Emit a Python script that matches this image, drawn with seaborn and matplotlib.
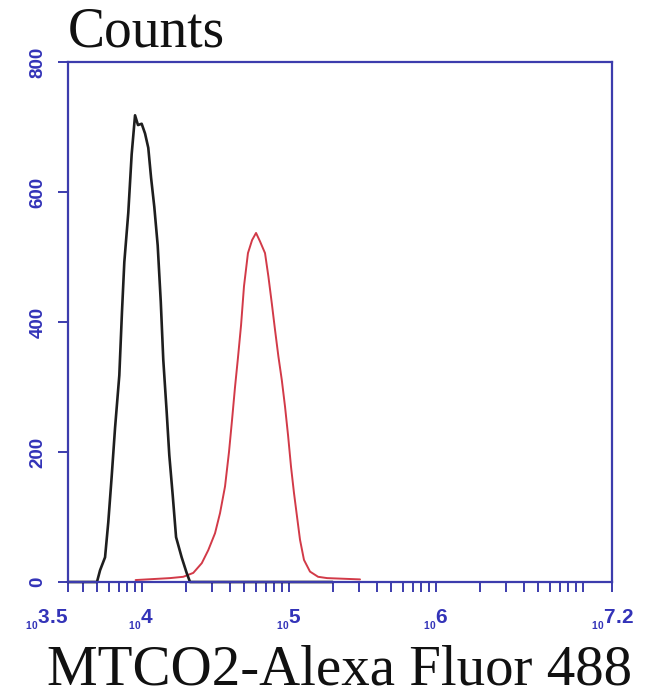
import numpy as np
import pandas as pd
import seaborn as sns
import matplotlib
matplotlib.use('Agg')
import matplotlib.pyplot as plt
from matplotlib.ticker import FixedLocator, FixedFormatter, NullFormatter

# histogram outlines: log10(fluorescence) and counts
black_log = [3.50, 3.697, 3.718, 3.752, 3.774, 3.797, 3.820, 3.849, 3.867, 3.883,
             3.910, 3.933, 3.956, 3.976, 4.001, 4.024, 4.046, 4.065, 4.087, 4.110,
             4.131, 4.148, 4.171, 4.189, 4.212, 4.235, 4.273, 4.307, 4.330, 5.30]
black_counts = [0, 0, 18, 38, 92, 162, 237, 318, 415, 492,
                568, 658, 718, 703, 705, 690, 668, 622, 577, 518,
                431, 342, 262, 195, 134, 69, 38, 14, 0, 0]

red_log = [3.96, 4.194, 4.284, 4.352, 4.410, 4.454, 4.500, 4.534, 4.568, 4.595,
           4.616, 4.636, 4.656, 4.677, 4.697, 4.724, 4.752, 4.779, 4.806, 4.840,
           4.863, 4.886, 4.908, 4.931, 4.954, 4.976, 4.997, 5.017, 5.037, 5.058,
           5.078, 5.105, 5.146, 5.201, 5.262, 5.486]
red_counts = [3, 6, 8, 14, 29, 49, 75, 106, 147, 200,
              250, 300, 345, 395, 455, 506, 526, 537, 524, 506,
              470, 429, 388, 347, 311, 270, 225, 177, 137, 100,
              65, 34, 16, 8, 6, 4]

x_major_exp = [3.5, 4, 5, 6, 7.2]
x_major_labels = [r'$_{_{\mathbf{10}}}$3.5', r'$_{_{\mathbf{10}}}$4', r'$_{_{\mathbf{10}}}$5',
                  r'$_{_{\mathbf{10}}}$6', r'$_{_{\mathbf{10}}}$7.2']
y_ticks = [0, 200, 400, 600, 800]

title = 'Counts'
xlabel = 'MTCO2-Alexa Fluor 488'

sns.set_style('white')
plt.rcParams['font.family'] = ['Liberation Sans', 'DejaVu Sans']
plt.rcParams['mathtext.fontset'] = 'custom'
plt.rcParams['mathtext.rm'] = 'Liberation Sans'
plt.rcParams['mathtext.bf'] = 'Liberation Sans:bold'

axis_blue = '#3c3cad'
label_blue = '#3333b8'

fig = plt.figure(figsize=(6.5, 6.99), dpi=100)
ax = fig.add_axes([68 / 650, 1 - 582 / 699, 544 / 650, 520 / 699])

df_black = pd.DataFrame({'fluor': 10 ** np.array(black_log), 'count': black_counts})
df_red = pd.DataFrame({'fluor': 10 ** np.array(red_log), 'count': red_counts})

sns.lineplot(data=df_red, x='fluor', y='count', color='#d23a48', lw=1.4,
             estimator=None, sort=False, ax=ax, clip_on=False)
sns.lineplot(data=df_black, x='fluor', y='count', color='#1e1e1e', lw=1.9,
             estimator=None, sort=False, ax=ax, clip_on=False)

ax.set_xscale('log')
ax.set_xlim(10 ** 3.5, 10 ** 7.2)
ax.set_ylim(0, 800)

ax.xaxis.set_major_locator(FixedLocator([10 ** e for e in x_major_exp]))
ax.xaxis.set_major_formatter(FixedFormatter(x_major_labels))
minor = [m * 10 ** d for d in range(3, 8) for m in range(2, 11)
         if 10 ** 3.5 < m * 10 ** d < 10 ** 7.2]
ax.xaxis.set_minor_locator(FixedLocator(minor))
ax.xaxis.set_minor_formatter(NullFormatter())

ax.set_yticks(y_ticks)
ax.set_yticklabels([str(v) for v in y_ticks], rotation=90, va='center')

for side in ['left', 'right', 'top', 'bottom']:
    ax.spines[side].set_color(axis_blue)
    ax.spines[side].set_linewidth(1.6)

ax.tick_params(axis='both', which='both', direction='out', color=axis_blue,
               width=1.4, length=7.5, labelcolor=label_blue)
ax.tick_params(axis='x', which='both', bottom=True, top=False, pad=11, labelsize=15)
ax.tick_params(axis='y', which='both', left=True, right=False, pad=8, labelsize=13.5)
for lab in ax.get_xticklabels() + ax.get_yticklabels():
    lab.set_fontweight('bold')
ax.get_xticklabels()[0].set_horizontalalignment('right')

ax.set_xlabel(xlabel, fontsize=41, family='Liberation Serif', color='#111111', labelpad=9)
ax.set_ylabel('')
ax.set_title(title, loc='left', fontsize=40, family='Liberation Serif', color='#111111', pad=11)

fig.savefig('out.png', dpi=100, facecolor='white')
